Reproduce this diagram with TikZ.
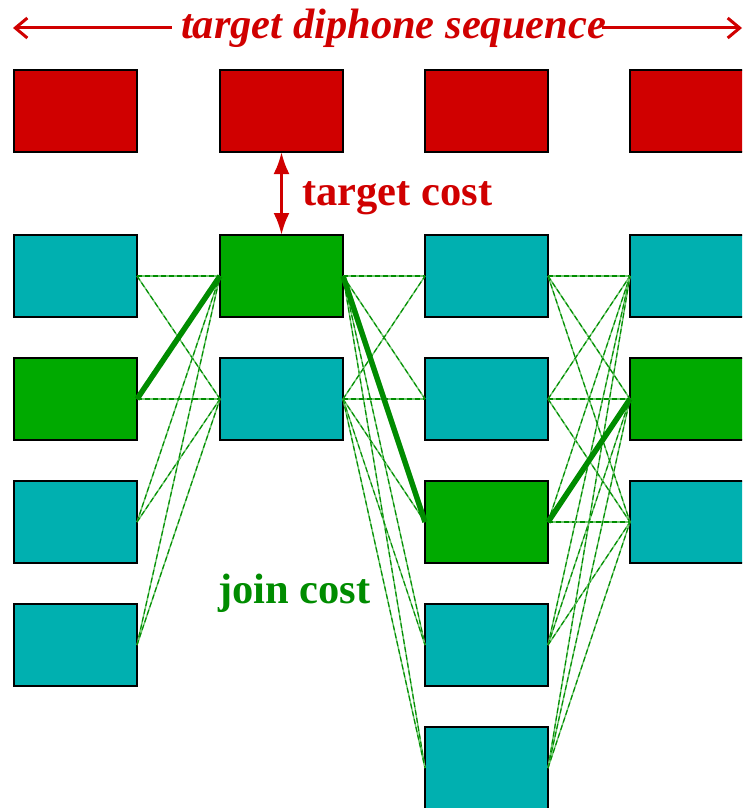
\documentclass[tikz,border=0pt]{standalone}
\usepackage{fontspec}
\setmainfont{Liberation Serif}
\usetikzlibrary{arrows.meta}
\definecolor{tred}{RGB}{208,0,0}
\definecolor{tteal}{RGB}{0,176,176}
\definecolor{tgreen}{RGB}{0,170,0}
\definecolor{lgreen}{RGB}{0,140,0}
\definecolor{lpale}{RGB}{110,200,110}
\begin{document}
\begin{tikzpicture}[x=1pt,y=-1pt,
  unit/.style={draw=black,line width=1.6pt,minimum width=123pt,minimum height=82pt,
    inner sep=0pt,outer sep=0pt,anchor=north west},
  link/.style={draw=lpale,line width=1.4pt,
    postaction={draw=lgreen,line width=1.1pt,dash pattern=on 5pt off 3pt}},
  best/.style={draw=lgreen,line width=5.5pt},
  bigtext/.style={inner sep=0pt,font=\fontsize{42.5}{42.5}\selectfont\bfseries},
  seqarrow/.style={draw=tred,line width=3pt,-{Straight Barb[length=12pt,width=20pt,line width=3pt]}},
  costarrow/.style={draw=tred,line width=3pt,{Latex[length=22pt,width=16pt]}-{Latex[length=22pt,width=16pt]}}
]
\useasboundingbox (0,0) rectangle (742,808);
\clip (0,0) rectangle (742,808);

% target units (top row)
\foreach \c/\x in {1/14,2/220,3/425,4/630}
  \node[unit,fill=tred] (t\c) at (\x,70) {};

% candidate units; the chosen one in each column is green
\foreach \c/\x/\n/\g in {1/14/4/2,2/220/2/1,3/425/5/3,4/630/3/2}{
  \foreach \r in {1,...,\n}{
    \ifnum\r=\g \def\fc{tgreen}\else\def\fc{tteal}\fi
    \node[unit,fill=\fc] (c\c-\r) at (\x,{235+(\r-1)*123}) {};
  }
}

% all join-cost links between neighbouring columns
\foreach \a in {1,...,4}\foreach \b in {1,2}
  \draw[link] (c1-\a.east) -- (c2-\b.west);
\foreach \a in {1,2}\foreach \b in {1,...,5}
  \draw[link] (c2-\a.east) -- (c3-\b.west);
\foreach \a in {1,...,5}\foreach \b in {1,2,3}
  \draw[link] (c3-\a.east) -- (c4-\b.west);

% best path
\draw[best] (c1-2.east) -- (c2-1.west);
\draw[best] (c2-1.east) -- (c3-3.west);
\draw[best] (c3-3.east) -- (c4-2.west);

% heading with double arrow
\node[bigtext,anchor=base,text=tred,font=\fontsize{42.5}{42.5}\selectfont\bfseries\itshape]
  (title) at (393.5,39) {target diphone sequence};
\coordinate (lend) at (13,28);
\coordinate (rend) at (742,28);
\draw[seqarrow] ([xshift=-9pt]title.west |- lend) -- (lend);
\draw[seqarrow] ([xshift=-4pt]title.east |- rend) -- (rend);

% target cost
\draw[costarrow] (t2.south) -- (c2-1.north);
\node[bigtext,anchor=base west,text=tred] (tc) at (302,205) {target cost};

% join cost
\node[bigtext,anchor=base west,text=lgreen] (jc) at (218,603) {join cost};
\end{tikzpicture}
\end{document}
